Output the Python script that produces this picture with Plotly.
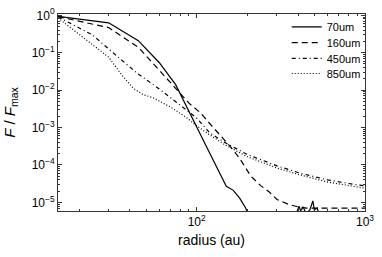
import plotly.graph_objects as go
import math

# ---- data ----
r_70 = [15, 30, 45, 60, 75, 90, 105, 120, 135, 150, 165, 180, 195, 210, 225, 240,
        300, 380, 395, 405, 415, 430, 445, 470, 490, 500, 520, 540, 560, 700, 1000]
f_70 = [0.94, 0.63, 0.21, 0.054, 0.014, 2.8e-3, 7.1e-4, 2.0e-4, 6.9e-5, 2.7e-5, 2.1e-5,
        1.3e-5, 7.2e-6, 3.5e-6, 1.6e-6, 8e-7, 3e-7, 1e-6, 5.6e-6, 7.9e-6, 6.0e-6, 7.6e-6,
        5.0e-6, 6.3e-6, 1.1e-5, 6.3e-6, 7.1e-6, 4e-6, 1e-6, 3e-7, 3e-7]

r_160 = [15, 30, 45, 60, 75, 90, 105, 120, 135, 150, 165, 180, 210, 240, 270, 300,
         350, 400, 450, 500, 600, 800, 1000]
f_160 = [0.92, 0.47, 0.14, 0.035, 0.0112, 4.5e-3, 2.5e-3, 1.26e-3, 7.1e-4, 4.2e-4,
         2.5e-4, 1.5e-4, 5.0e-5, 2.8e-5, 1.9e-5, 1.2e-5, 8.9e-6, 7.6e-6, 7.0e-6, 7.0e-6,
         7.0e-6, 7.0e-6, 7.0e-6]

r_450 = [15, 24, 33, 44, 60, 83, 100, 120, 150, 200, 300, 413, 600, 800, 1000]
f_450 = [0.91, 0.30, 0.087, 0.029, 0.0107, 3.5e-3, 1.8e-3, 7.1e-4, 3.8e-4, 1.9e-4,
         9.5e-5, 6.0e-5, 4.0e-5, 3.2e-5, 2.75e-5]

r_850 = [15, 30, 36, 42, 48, 55, 70, 85, 100, 120, 150, 200, 300, 413, 600, 800, 1000]
f_850 = [0.85, 0.076, 0.025, 0.0112, 7.6e-3, 6.3e-3, 3.5e-3, 2.0e-3, 1.12e-3, 6.3e-4,
         3.3e-4, 1.66e-4, 8.3e-5, 5.4e-5, 3.5e-5, 2.8e-5, 2.4e-5]

series_names = ["70um", "160um", "450um", "850um"]
x_tickvals = [100, 1000]
x_ticktext = ["10<sup>2</sup>", "10<sup>3</sup>"]
y_tickvals = [1, 1e-1, 1e-2, 1e-3, 1e-4, 1e-5]
y_ticktext = ["10<sup>0</sup>", "10<sup>\u22121</sup>", "10<sup>\u22122</sup>",
              "10<sup>\u22123</sup>", "10<sup>\u22124</sup>", "10<sup>\u22125</sup>"]
x_range = [15, 1000]
y_range = [10 ** -5.23, 10 ** 0.035]

# ---- styles ----
dashes = ["solid", "6px,4px", "4px,3px,1px,3px", "1px,2px"]
legend_ids = ["legend", "legend2", "legend3", "legend4"]
legend_y = [0.935, 0.855, 0.775, 0.698]
FONT = "Liberation Sans, Arial, Helvetica, sans-serif"

fig = go.Figure()
for name, rr, ff, d, lg in zip(series_names, [r_70, r_160, r_450, r_850],
                               [f_70, f_160, f_450, f_850], dashes, legend_ids):
    fig.add_trace(go.Scatter(x=rr, y=ff, mode="lines", name=name, legend=lg,
                             line=dict(color="black", width=1.2, dash=d)))

axis_common = dict(
    type="log", showgrid=False, zeroline=False, automargin=False,
    showline=True, linecolor="#333", linewidth=1, mirror="allticks",
    ticks="inside", ticklen=4, tickcolor="#333", tickwidth=1,
    tickfont=dict(family=FONT, size=12, color="black"),
    minor=dict(ticks="inside", ticklen=2, tickcolor="#333", tickwidth=0.8,
               showgrid=False, dtick="D1"),
)

fig.update_xaxes(**axis_common, tickmode="array", tickvals=x_tickvals, ticktext=x_ticktext,
                 range=[math.log10(x_range[0]), math.log10(x_range[1])],
                 title=dict(text="radius (au)", font=dict(family=FONT, size=14, color="black"),
                            standoff=6))
fig.update_yaxes(**axis_common, tickmode="array", tickvals=y_tickvals, ticktext=y_ticktext,
                 range=[math.log10(y_range[0]), math.log10(y_range[1])],
                 title=dict(text="<i>F</i> / <i>F</i><sub>max</sub>",
                            font=dict(family=FONT, size=15, color="black"), standoff=12))

legend_style = dict(x=0.745, xanchor="left", yanchor="middle",
                    bgcolor="rgba(0,0,0,0)", borderwidth=0,
                    font=dict(family=FONT, size=11, color="black"),
                    itemwidth=30, tracegroupgap=0)
layout_legends = {lg: dict(legend_style, y=ly) for lg, ly in zip(legend_ids, legend_y)}

fig.update_layout(
    width=382, height=257,
    margin=dict(l=58, r=17, t=12, b=46),
    paper_bgcolor="white", plot_bgcolor="white",
    font=dict(family=FONT, color="black"),
    showlegend=True,
    **layout_legends,
)

fig.write_html("out.html", config={"displayModeBar": False},
               post_script="document.body.style.margin='0px';document.body.style.overflow='hidden';")
